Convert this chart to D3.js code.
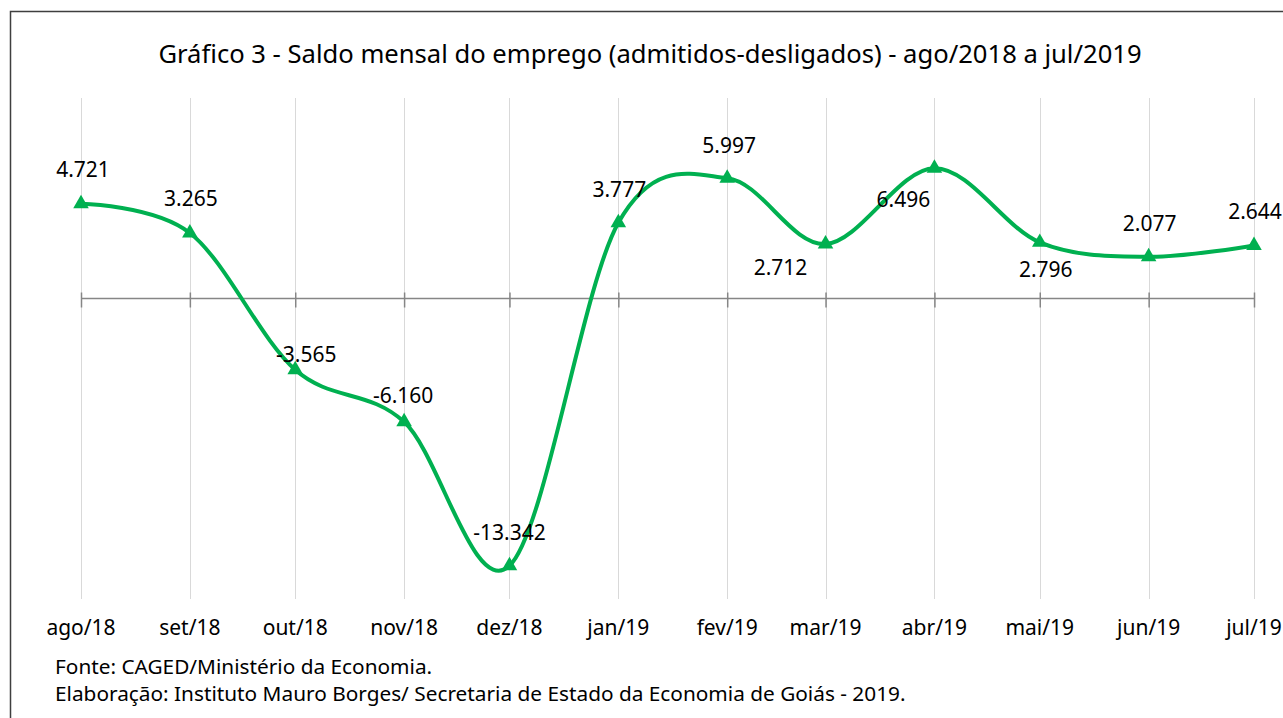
<!DOCTYPE html>
<html>
<head>
<meta charset="utf-8">
<script src="https://cdn.jsdelivr.net/npm/d3@7"></script>
<style>
  body { margin: 0; background: #fff; }
  svg { display: block; font-family: "Noto Sans", "Open Sans", sans-serif; }
</style>
</head>
<body>
<div id="chart"></div>
<script>
// Saldo mensal do emprego - data
var months = ["ago/18", "set/18", "out/18", "nov/18", "dez/18", "jan/19",
              "fev/19", "mar/19", "abr/19", "mai/19", "jun/19", "jul/19"];
var monthDates = ["2018-08-01", "2018-09-01", "2018-10-01", "2018-11-01", "2018-12-01", "2019-01-01",
                  "2019-02-01", "2019-03-01", "2019-04-01", "2019-05-01", "2019-06-01", "2019-07-01"];
var saldo = [4721, 3265, -3565, -6160, -13342, 3777, 5997, 2712, 6496, 2796, 2077, 2644];

// Label placement (dx, dy from the marker), as they were dragged in the original
var labelOffsets = [[2, -27], [1, -27], [11, -8], [-1, -19], [0, -26], [1, -26],
                    [2, -25], [-45, 31], [-31, 39], [6, 35], [1, -26], [1, -26]];

var titleText = "Gráfico 3 - Saldo mensal do emprego (admitidos-desligados) - ago/2018 a jul/2019";
var notes = ["Fonte: CAGED/Ministério da Economia.",
             "Elaboração: Instituto Mauro Borges/ Secretaria de Estado da Economia de Goiás - 2019."];

// SVG setup
var svgWidth = 1283;
var svgHeight = 718;
var plot = { left: 81, right: 1254, top: 98, bottom: 599 };
var green = "#00B050";

var parseDate = d3.timeParse("%Y-%m-%d");
var data = months.map(function(m, i) {
    return { month: m, date: parseDate(monthDates[i]), value: saldo[i], off: labelOffsets[i] };
});

// Brazilian number format, plain hyphen as minus sign
var ptBR = d3.formatLocale({ decimal: ",", thousands: ".", grouping: [3], currency: ["R$", ""], minus: "-" });
var fmt = ptBR.format(",d");

var svg = d3.select("#chart").append("svg")
    .attr("width", svgWidth)
    .attr("height", svgHeight);

svg.append("rect").attr("width", svgWidth).attr("height", svgHeight).attr("fill", "#fff");

// Chart frame (only left and top edges are inside the picture)
svg.append("path")
    .attr("d", "M10.5," + svgHeight + "V11.5H" + svgWidth)
    .attr("fill", "none")
    .attr("stroke", "#3f3f3f")
    .attr("stroke-width", 1.5);

// Scales - date axis, so months are spaced by their number of days
var xScale = d3.scaleTime()
    .domain(d3.extent(data, function(d) { return d.date; }))
    .range([plot.left, plot.right]);

var yScale = d3.scaleLinear()
    .domain([-15000, 10000])
    .range([plot.bottom, plot.top]);

// Title
svg.append("text")
    .attr("x", 650)
    .attr("y", 63)
    .attr("text-anchor", "middle")
    .attr("font-size", 25.6)
    .attr("fill", "#000")
    .text(titleText);

// Vertical gridlines
svg.append("g")
    .selectAll("line")
    .data(data)
    .enter().append("line")
    .attr("x1", function(d) { return Math.round(xScale(d.date)) + 0.5; })
    .attr("x2", function(d) { return Math.round(xScale(d.date)) + 0.5; })
    .attr("y1", plot.top)
    .attr("y2", plot.bottom)
    .attr("stroke", "#d9d9d9")
    .attr("stroke-width", 1);

// Zero axis with crossing ticks
var zeroY = Math.round(yScale(0)) + 0.5;
var xAxis = d3.axisBottom(xScale)
    .tickValues(data.map(function(d) { return d.date; }))
    .tickSize(8)
    .tickFormat("");
var axisG = svg.append("g")
    .attr("transform", "translate(0," + zeroY + ")")
    .call(xAxis);
axisG.select(".domain").attr("stroke", "#868686").attr("stroke-width", 1.5)
    .attr("d", "M" + plot.left + ",0H" + plot.right);
axisG.selectAll(".tick line")
    .attr("stroke", "#868686")
    .attr("stroke-width", 1.5)
    .attr("y1", -6)
    .attr("y2", 9);

// Category labels at the bottom
svg.append("g")
    .selectAll("text")
    .data(data)
    .enter().append("text")
    .attr("x", function(d) { return xScale(d.date); })
    .attr("y", 635)
    .attr("text-anchor", "middle")
    .attr("font-size", 21)
    .attr("fill", "#000")
    .text(function(d) { return d.month; });

// Smoothed line (Excel-like smoothing)
var line = d3.line()
    .x(function(d) { return xScale(d.date); })
    .y(function(d) { return yScale(d.value); })
    .curve(d3.curveCardinal.tension(0));

svg.append("path")
    .datum(data)
    .attr("d", line)
    .attr("fill", "none")
    .attr("stroke", green)
    .attr("stroke-width", 4)
    .attr("stroke-linejoin", "round");

// Triangle markers
svg.append("g")
    .selectAll("path")
    .data(data)
    .enter().append("path")
    .attr("d", d3.symbol().type(d3.symbolTriangle).size(105))
    .attr("transform", function(d) { return "translate(" + xScale(d.date) + "," + yScale(d.value) + ")"; })
    .attr("fill", green);

// Data labels
svg.append("g")
    .selectAll("text")
    .data(data)
    .enter().append("text")
    .attr("x", function(d) { return xScale(d.date) + d.off[0]; })
    .attr("y", function(d) { return yScale(d.value) + d.off[1]; })
    .attr("text-anchor", "middle")
    .attr("font-size", 21)
    .attr("fill", "#000")
    .text(function(d) { return fmt(d.value); });

// Source notes
svg.append("g")
    .selectAll("text")
    .data(notes)
    .enter().append("text")
    .attr("x", 55)
    .attr("y", function(d, i) { return 674 + i * 27; })
    .attr("font-size", 20.8)
    .attr("fill", "#000")
    .text(function(d) { return d; });
</script>
</body>
</html>
